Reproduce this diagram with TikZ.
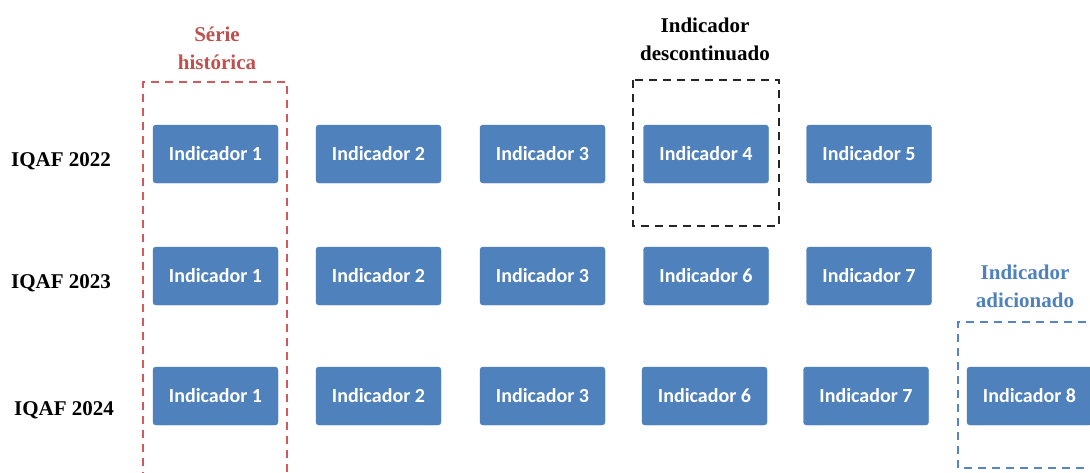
\documentclass[tikz,border=0pt]{standalone}
\usepackage{fontspec}
\setmainfont{Liberation Serif}
\newfontfamily\boxfont{Carlito}
\definecolor{boxblue}{HTML}{4F81BD}
\definecolor{boxedge}{HTML}{4A7AB3}
\definecolor{serieRed}{HTML}{C0504D}
\definecolor{frameRed}{HTML}{D25A5A}
\definecolor{addBlue}{HTML}{4F81BD}
\definecolor{frameBlue}{HTML}{5585C4}
\definecolor{frameBlack}{HTML}{262626}
\tikzset{
  ind/.style={draw=boxedge, fill=boxblue, rounded corners=3pt,
    minimum width=125pt, minimum height=58pt, inner sep=0pt,
    text=white, font=\boxfont\bfseries\fontsize{20}{24}\selectfont},
  rowlab/.style={anchor=base, font=\bfseries\fontsize{21}{25}\selectfont},
  caption/.style={anchor=base, align=center,
    font=\bfseries\fontsize{21}{27.5}\selectfont},
  frame/.style={line width=2.7pt, dash pattern=on 8pt off 6pt}
}
\begin{document}
\begin{tikzpicture}[x=1pt, y=-1pt]
\clip (0,0) rectangle (1090,472);
\fill[white] (0,0) rectangle (1090,472);

% row labels
\node[rowlab] (y22) at (61,166) {IQAF 2022};
\node[rowlab] (y23) at (61,288) {IQAF 2023};
\node[rowlab] (y24) at (64,415) {IQAF 2024};

% IQAF 2022
\node[ind] (a1) at (215.5,154) {Indicador 1};
\node[ind] (a2) at (378.5,154) {Indicador 2};
\node[ind] (a3) at (542.5,154) {Indicador 3};
\node[ind] (a4) at (706,154)   {Indicador 4};
\node[ind] (a5) at (869,154)   {Indicador 5};

% IQAF 2023
\node[ind] (b1) at (215.5,276) {Indicador 1};
\node[ind] (b2) at (378.5,276) {Indicador 2};
\node[ind] (b3) at (542.5,276) {Indicador 3};
\node[ind] (b6) at (706,276)   {Indicador 6};
\node[ind] (b7) at (869,276)   {Indicador 7};

% IQAF 2024
\node[ind] (c1) at (215.5,396) {Indicador 1};
\node[ind] (c2) at (378.5,396) {Indicador 2};
\node[ind] (c3) at (542.5,396) {Indicador 3};
\node[ind] (c6) at (704.5,396) {Indicador 6};
\node[ind] (c7) at (866,396)   {Indicador 7};
\node[ind] (c8) at (1029.5,396) {Indicador 8};

% captions (anchored on the baseline of their last line)
\node[caption, text=serieRed] (serie) at (217,69) {Série\\histórica};
\node[caption, text=black] (desc) at (705,60) {Indicador\\descontinuado};
\node[caption, text=addBlue] (adic) at (1025,307) {Indicador\\adicionado};

% dashed frames
\draw[frame, draw=frameRed] (143,480) -- (143,82) -- (287,82) -- (287,480);
\draw[frame, draw=frameBlack] (633,80) rectangle (779,226);
\draw[frame, draw=frameBlue] (1100,322) -- (958,322) -- (958,468) -- (1100,468);
\end{tikzpicture}
\end{document}
